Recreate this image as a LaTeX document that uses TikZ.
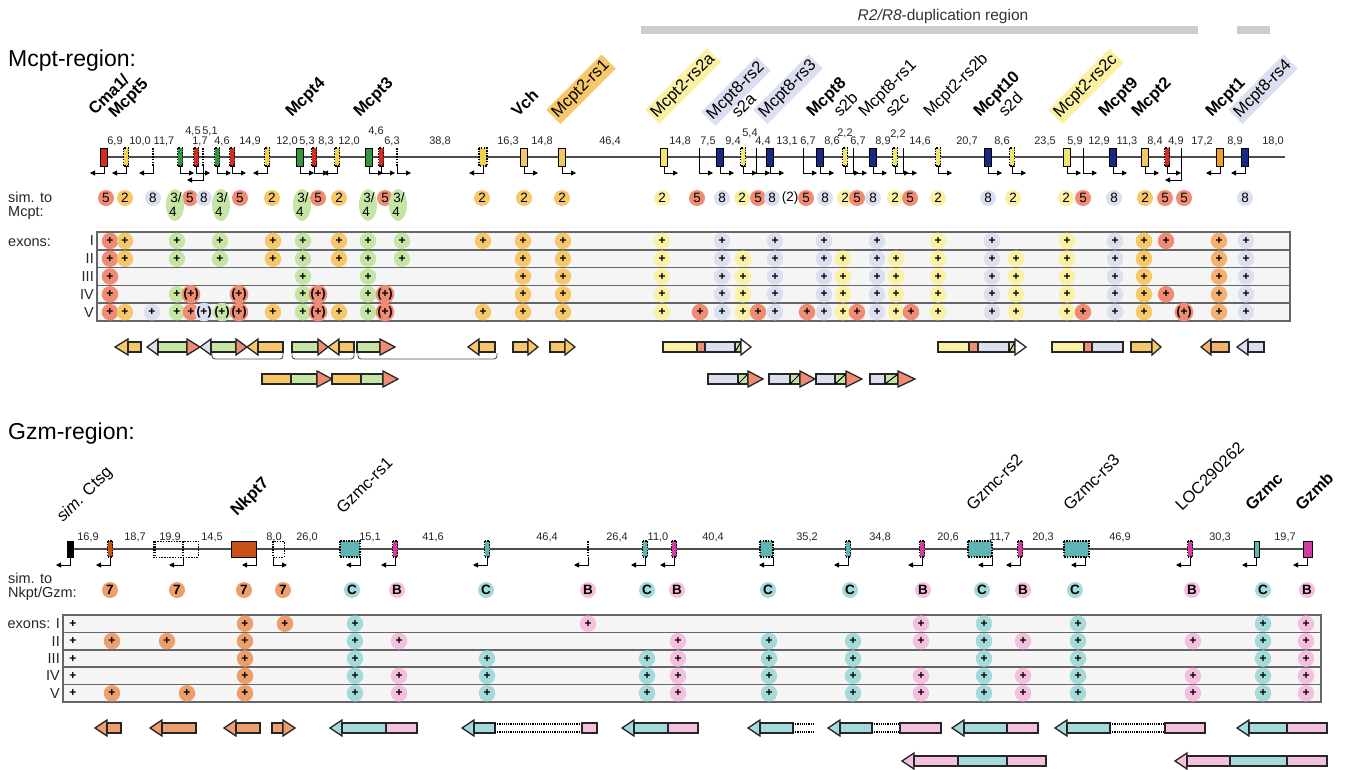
\documentclass[tikz,border=0pt]{standalone}
\usepackage{fontspec}
\setmainfont{Liberation Sans}
\usetikzlibrary{arrows.meta}
\definecolor{cR}{RGB}{240,140,115}
\definecolor{cO}{RGB}{247,200,105}
\definecolor{cP}{RGB}{250,241,165}
\definecolor{cL}{RGB}{220,223,240}
\definecolor{cG}{RGB}{197,229,165}
\definecolor{cA}{RGB}{246,176,112}
\definecolor{cN}{RGB}{236,158,108}
\definecolor{cT}{RGB}{165,218,218}
\definecolor{cK}{RGB}{245,192,221}
\definecolor{gRed}{RGB}{210,45,30}
\definecolor{gYel}{RGB}{240,210,80}
\definecolor{gOch}{RGB}{240,200,100}
\definecolor{gGrn}{RGB}{50,150,60}
\definecolor{gNav}{RGB}{25,40,130}
\definecolor{gPY}{RGB}{240,230,110}
\definecolor{gOr}{RGB}{240,160,40}
\definecolor{gBr}{RGB}{200,80,20}
\definecolor{gTl}{RGB}{95,180,180}
\definecolor{gPk}{RGB}{210,60,160}
\newcommand\myfs[1]{\fontsize{#1}{#1}\selectfont}
\newcommand\sg[4]{\draw[seg,fill=#4] (#1,#3-5) rectangle (#2,#3+5);}
\newcommand\hd[4]{\draw[seg,fill=#4] (#1,#3-8) -- (#2,#3) -- (#1,#3+8) -- cycle;}
\newcommand\dg[4]{\draw[seg,fill=#4] (#1,#3-5) rectangle (#2,#3+5); \draw[line width=1pt] (#1,#3+5) -- (#2,#3-5);}
\newcommand\dt[3]{\draw[densely dotted, line width=1.2pt] (#1,#3-4) -- (#2,#3-4) (#1,#3+4) -- (#2,#3+4);}
\tikzset{
 num/.style={font=\myfs{11}, inner sep=0pt, text=black!85},
 glab/.style={rotate=45, anchor=base west, inner sep=0pt, font=\myfs{16.5}},
 hl/.style={fill=#1, inner sep=2.5pt},
 simc/.style={circle, minimum size=16pt, inner sep=0pt, font=\myfs{13.5}},
 pc/.style={circle, minimum size=16.5pt, inner sep=0pt, font=\bfseries\myfs{12}},
 seg/.style={draw=black!85, line width=1.3pt},
 orient/.style={line width=0.9pt, -{Triangle[length=5pt,width=5pt]}},
 side/.style={font=\myfs{14.5}, inner sep=0pt, text=black!85},
 gline/.style={line width=1.4pt, draw=black!70},
 dotb/.style={line width=1.2pt, dash pattern=on 1.5pt off 1.2pt},
 row/.style={fill=black!4, draw=black!60, line width=1.6pt},
}
\begin{document}
\begin{tikzpicture}[x=1pt,y=-1pt]
\useasboundingbox (0,0) rectangle (1349,769);
% ===== duplication region bars
\fill[black!20] (641,26) rectangle (1198,34);
\fill[black!20] (1237,26) rectangle (1270,34);
\node[font=\myfs{15.5}, text=black!80, anchor=base] at (943,20) {\itshape R2/R8\upshape-duplication region};
% ===== titles
\node[anchor=base west, font=\myfs{23}, inner sep=0pt] at (8,66) {Mcpt-region:};
\node[anchor=base west, font=\myfs{23}, inner sep=0pt] at (8,439) {Gzm-region:};
% ===== Mcpt gene line
\draw[gline] (100,157) -- (1285,157);
\foreach \x/\cc in {104/gRed,300/gGrn,369/gGrn,524/gOch,562/gOch,664/gPY,720/gNav,770/gNav,820/gNav,873/gNav,988/gNav,1067/gPY,1113/gNav,1145/gOch,1220/gOr,1245/gNav}
  {\draw[line width=1pt, fill=\cc] (\x-3.5,148) rectangle (\x+3.5,166);}
\foreach \x/\cc in {126/gYel,180/gGrn,196/gRed,217/gGrn,232/gRed,267/gYel,314/gRed,337/gYel,381/gRed,743/gPY,845/gPY,895/gPY,938/gPY,1012/gPY,1167/gRed}
  {\fill[\cc] (\x-2.5,148) rectangle (\x+2.5,166); \draw[dotb] (\x-2.5,148) rectangle (\x+2.5,166);}
\fill[gYel] (479,148) rectangle (487,166); \draw[dotb] (479,148) rectangle (487,166);
\foreach \x in {153,203,397} {\draw[dotb] (\x,148) -- (\x,166);}
\foreach \x in {699,756,803,853,903,1083,1181} {\draw[line width=1pt] (\x,148) -- (\x,166);}
\foreach \x in {104,126,153,267,337,483,1220,1245} {\draw[orient] (\x,166) -- (\x,173) -- (\x-14,173);}
\foreach \x in {203,1181} {\draw[orient] (\x,166) -- (\x,180) -- (\x-16,180);}
\foreach \x in {180,196,217,232,300,314,369,381,397,524,562,664,699,720,743,756,770,803,820,845,853,873,895,903,938,988,1012,1067,1083,1113,1145,1167}
  {\draw[orient] (\x,166) -- (\x,173) -- (\x+14,173);}
% distances
\foreach \x/\y/\t in {115/141/{6,9},140/141/{10,0},164/141/{11,7},193/131/{4,5},200/141/{1,7},210/131/{5,1},222/141/{4,6},250/141/{14,9},287/141/{12,0},307/141/{5,3},326/141/{8,3},349/141/{12,0},376/131/{4,6},392/141/{6,3},440/141/{38,8},508/141/{16,3},542/141/{14,8},610/141/{46,4},680/141/{14,8},708/141/{7,5},733/141/{9,4},750/133/{5,4},763/141/{4,4},787/141/{13,1},808/141/{6,7},832/141/{8,6},845/133/{2,2},858/141/{6,7},883/141/{8,9},898/134/{2,2},920/141/{14,6},967/141/{20,7},1002/141/{8,6},1045/141/{23,5},1075/141/{5,9},1099/141/{12,9},1127/141/{11,3},1155/141/{8,4},1176/141/{4,9},1202/141/{17,2},1235/141/{8,9},1273/141/{18,0}}
  {\node[num] at (\x,\y) {\t};}
% gene labels
\node[glab] at (95,116) {\bfseries Cma1/};
\node[glab] at (115,119) {\bfseries Mcpt5};
\node[glab] at (292,118) {\bfseries Mcpt4};
\node[glab] at (360,118) {\bfseries Mcpt3};
\node[glab] at (518,118) {\bfseries Vch};
\node[glab,hl=cO] at (556,120) {Mcpt2-rs1};
\node[glab,hl=cP] at (655,120) {Mcpt2-rs2a};
\node[glab,hl=cL] at (711,122) {Mcpt8-rs2};
\node[glab] at (738,119) {s2a};
\node[glab,hl=cL] at (763,120) {Mcpt8-rs3};
\node[glab] at (813,118) {\bfseries Mcpt8};
\node[glab] at (840,118) {s2b};
\node[glab] at (865,118) {Mcpt8-rs1};
\node[glab] at (892,118) {s2c};
\node[glab] at (930,118) {Mcpt2-rs2b};
\node[glab] at (980,118) {\bfseries Mcpt10};
\node[glab] at (1005,118) {s2d};
\node[glab,hl=cP] at (1058,120) {Mcpt2-rs2c};
\node[glab] at (1105,118) {\bfseries Mcpt9};
\node[glab] at (1138,118) {\bfseries Mcpt2};
\node[glab] at (1212,118) {\bfseries Mcpt1};
\node[glab,hl=cL] at (1238,120) {Mcpt8-rs4};
% sim row
\node[side, anchor=base west] at (8,202) {sim. to};
\node[side, anchor=base west] at (8,216) {Mcpt:};
\foreach \x/\cc/\t in {106/cR/5,125/cO/2,153/cL/8,190/cR/5,204/cL/8,240/cR/5,272/cO/2,318/cR/5,339/cO/2,385/cR/5,482/cO/2,524/cO/2,562/cO/2,662/cP/2,697/cR/5,722/cL/8,742/cP/2,758/cR/5,772/cL/8,806/cR/5,825/cL/8,845/cP/2,857/cR/5,873/cL/8,895/cP/2,910/cR/5,938/cP/2,988/cL/8,1013/cP/2,1066/cP/2,1083/cR/5,1114/cL/8,1145/cO/2,1165/cR/5,1184/cR/5,1245/cL/8}
  {\node[simc,fill=\cc] at (\x,198) {\t};}
\node[font=\myfs{13.5}, inner sep=0pt] at (790,198) {(2)};
\foreach \x in {175,221,302,368,398}
  {\fill[cG] (\x,205) ellipse [x radius=9pt, y radius=16pt];
   \node[font=\myfs{13.5}, inner sep=0pt] at (\x+1,198) {3/};
   \node[font=\myfs{13.5}, inner sep=0pt] at (\x-2,212) {4};}
% exon table Mcpt
\node[side, anchor=base west] at (8,246) {exons:};
\foreach \rr in {0,...,4} {\draw[row] (97,{232+17.8*\rr}) rectangle (1290,{232+17.8*(\rr+1)});}
\foreach \t [count=\rr] in {I,II,III,IV,V} {\node[side, anchor=east] at (94,{223.1+17.8*\rr}) {\t};}
\foreach \x/\cc/\rs in {110/cR/{1,2,3,4,5},125/cO/{1,2,5},177/cG/{1,2,4,5},191/cR/{5},220/cG/{1,2},273/cO/{1,2,5},303/cG/{1,2,3,4,5},339/cO/{1,2,5},368/cG/{1,2,3,4,5},402/cG/{1,2},483/cO/{1,5},523/cO/{1,2,3,4,5},563/cO/{1,2,3,4,5},662/cP/{1,2,3,4,5},700/cR/{5},722/cL/{1,2,3,4,5},743/cP/{2,3,4,5},758/cR/{5},775/cL/{1,2,3,4,5},807/cR/{5},824/cL/{1,2,3,4,5},843/cP/{2,3,4,5},857/cR/{5},877/cL/{1,2,3,4,5},896/cP/{2,3,4,5},911/cR/{5},938/cP/{1,2,3,4,5},992/cL/{1,2,3,4,5},1016/cP/{2,3,4,5},1067/cP/{1,2,3,4,5},1083/cR/{5},1115/cL/{1,2,3,4,5},1144/cO/{1,2,3,4,5},1166/cR/{1,4},1219/cA/{1,2,3,4,5},1246/cL/{1,2,3,4,5}}
  {\foreach \rr in \rs {\node[pc,fill=\cc] at (\x,{223.1+17.8*\rr}) {+};}}
\foreach \x/\cc/\rs in {191/cR/{4},204/cL/{5},222/cG/{5},239/cR/{4,5},318/cR/{4,5},385/cR/{4,5},1184/cR/{5}}
  {\foreach \rr in \rs {\node[pc,fill=\cc] at (\x,{223.1+17.8*\rr}) {(+)};}}
\node[pc,fill=cL] at (152,312.1) {+};
% domain arrows Mcpt row 1
\hd{128}{115}{347}{cO} \sg{128}{141}{347}{cO}
\hd{158}{147}{347}{cL} \sg{158}{187}{347}{cG} \hd{187}{200}{347}{cR}
\hd{211}{200}{347}{cL} \sg{211}{236}{347}{cG} \hd{236}{247}{347}{cR}
\hd{258}{247}{347}{cO} \sg{258}{283}{347}{cO}
\sg{292}{318}{347}{cG} \hd{318}{328}{347}{cR}
\hd{339}{328}{347}{cO} \sg{339}{354}{347}{cO}
\sg{357}{380}{347}{cG} \hd{380}{395}{347}{cR}
\hd{479}{468}{347}{cO} \sg{479}{495}{347}{cO}
\sg{513}{528}{347}{cO} \hd{528}{538}{347}{cO}
\sg{550}{565}{347}{cO} \hd{565}{575}{347}{cO}
\sg{663}{697}{347}{cP} \sg{697}{705}{347}{cR} \sg{705}{735}{347}{cL} \dg{735}{741}{347}{cG} \hd{741}{751}{347}{white}
\sg{938}{969}{347}{cP} \sg{969}{978}{347}{cR} \sg{978}{1009}{347}{cL} \dg{1009}{1015}{347}{cG} \hd{1015}{1026}{347}{white}
\sg{1052}{1084}{347}{cP} \sg{1084}{1092}{347}{cR} \sg{1092}{1123}{347}{cL}
\sg{1131}{1152}{347}{cO} \hd{1152}{1161}{347}{cO}
\hd{1211}{1201}{347}{cA} \sg{1211}{1229}{347}{cA}
\hd{1248}{1237}{347}{cL} \sg{1248}{1264}{347}{cL}
% brackets
\foreach \a/\b in {212/283,292/354,358/497}
  {\draw[line width=0.9pt, black!70, rounded corners=3pt] (\a,353) -- (\a,359) -- (\b,359) -- (\b,353);}
% row 2
\sg{262}{291}{379}{cO} \sg{291}{317}{379}{cG} \hd{317}{332}{379}{cR}
\sg{332}{361}{379}{cO} \sg{361}{383}{379}{cG} \hd{383}{398}{379}{cR}
\sg{708}{738}{379}{cL} \dg{738}{748}{379}{cG} \hd{748}{763}{379}{cR}
\sg{769}{790}{379}{cL} \dg{790}{800}{379}{cG} \hd{800}{815}{379}{cR}
\sg{816}{835}{379}{cL} \dg{835}{846}{379}{cG} \hd{846}{862}{379}{cR}
\sg{870}{885}{379}{cL} \dg{885}{898}{379}{cG} \hd{898}{915}{379}{cR}
% ===== Gzm gene line
\draw[gline] (70,549) -- (1312,549);
\draw[line width=1pt, fill=black] (67,541) rectangle (73,557);
\draw[line width=1pt, fill=gBr] (231,541) rectangle (256,557);
\draw[line width=1pt, fill=gTl] (1254,541) rectangle (1259,557);
\draw[line width=1pt, fill=gPk] (1303,541) rectangle (1312,557);
\foreach \x/\cc in {110/gBr,395/gPk,487/gTl,645/gTl,674/gPk,848/gTl,922/gPk,1020/gPk,1190/gPk}
  {\fill[\cc] (\x-2.5,541) rectangle (\x+2.5,557); \draw[dotb] (\x-2.5,541) rectangle (\x+2.5,557);}
\foreach \x in {155,183,273,588} {\draw[dotb] (\x,541) -- (\x,557);}
\draw[dotb, line width=1pt] (153,541) rectangle (198,557);
\draw[dotb, line width=1pt] (273,541) rectangle (284,557);
\foreach \a/\b in {340/360,760/773,968/992,1064/1089}
  {\fill[gTl] (\a,541) rectangle (\b,557); \draw[dotb] (\a,541) rectangle (\b,557);}
\foreach \x in {70,110,183,256,360,395,487,588,645,674,773,848,922,992,1020,1085,1190,1256,1307}
  {\draw[orient] (\x,557) -- (\x,565) -- (\x-14,565);}
\draw[orient] (273,557) -- (273,565) -- (287,565);
\foreach \x/\t in {88/{16,9},135/{18,7},170/{19,9},212/{14,5},274/{8,0},307/{26,0},370/{15,1},433/{41,6},547/{46,4},617/{26,4},658/{11,0},713/{40,4},807/{35,2},880/{34,8},948/{20,6},1000/{11,7},1043/{20,3},1120/{46,9},1220/{30,3},1285/{19,7}}
  {\node[num] at (\x,537) {\t};}
\node[glab] at (63,523) {\itshape sim.\upshape{} Ctsg};
\node[glab] at (237,517) {\bfseries Nkpt7};
\node[glab] at (343,515) {Gzmc-rs1};
\node[glab] at (973,512) {Gzmc-rs2};
\node[glab] at (1070,512) {Gzmc-rs3};
\node[glab] at (1182,512) {LOC290262};
\node[glab] at (1252,512) {\bfseries Gzmc};
\node[glab] at (1302,512) {\bfseries Gzmb};
\node[side, anchor=base west] at (8,583) {sim. to};
\node[side, anchor=base west] at (8,597) {Nkpt/Gzm:};
\foreach \x/\cc/\t in {110/cN/7,177/cN/7,244/cN/7,283/cN/7,352/cT/C,397/cK/B,486/cT/C,588/cK/B,647/cT/C,677/cK/B,768/cT/C,850/cT/C,923/cK/B,982/cT/C,1023/cK/B,1075/cT/C,1192/cK/B,1263/cT/C,1307/cK/B}
  {\node[simc,fill=\cc,font=\bfseries\myfs{13.5}] at (\x,590) {\t};}
% exon table Gzm
\foreach \rr in {0,...,4} {\draw[row] (63,{615+17.4*\rr}) rectangle (1321,{615+17.4*(\rr+1)});}
\node[side, anchor=east] at (60,623.7) {exons: I};
\foreach \t [count=\rr] in {I,II,III,IV,V} {\ifnum\rr>1 \node[side, anchor=east] at (60,{606.3+17.4*\rr}) {\t};\fi}
\foreach \rr in {1,...,5} {\node[font=\bfseries\myfs{12}, inner sep=0pt] at (73,{606.3+17.4*\rr}) {+};}
\foreach \x/\cc/\rs in {112/cN/{2,5},167/cN/{2},187/cN/{5},245/cN/{1,2,3,4,5},285/cN/{1},355/cT/{1,2,3,4,5},399/cK/{2,4,5},487/cT/{3,4,5},588/cK/{1},647/cT/{3,4,5},678/cK/{2,3,4,5},769/cT/{2,3,4,5},853/cT/{2,3,4,5},921/cK/{1,2,4,5},984/cT/{1,2,3,4,5},1023/cK/{2,4,5},1078/cT/{1,2,3,4,5},1193/cK/{2,4,5},1263/cT/{1,2,3,4,5},1306/cK/{1,2,3,4,5}}
  {\foreach \rr in \rs {\node[pc,fill=\cc] at (\x,{606.3+17.4*\rr}) {+};}}
% domain arrows Gzm
\hd{107}{95}{728}{cN} \sg{107}{121}{728}{cN}
\hd{162}{150}{728}{cN} \sg{162}{196}{728}{cN}
\hd{236}{224}{728}{cN} \sg{236}{260}{728}{cN}
\sg{272}{283}{728}{cN} \hd{283}{295}{728}{cN}
\hd{342}{330}{728}{cT} \sg{342}{386}{728}{cT} \sg{386}{417}{728}{cK}
\hd{474}{462}{728}{cT} \sg{474}{495}{728}{cT} \dt{495}{582}{728} \sg{582}{597}{728}{cK}
\hd{634}{622}{728}{cT} \sg{634}{668}{728}{cT} \sg{668}{698}{728}{cK}
\hd{760}{748}{728}{cT} \sg{760}{793}{728}{cT} \dt{793}{815}{728}
\hd{840}{828}{728}{cT} \sg{840}{872}{728}{cT} \dt{872}{900}{728} \sg{900}{941}{728}{cK}
\hd{964}{952}{728}{cT} \sg{964}{1007}{728}{cT} \sg{1007}{1038}{728}{cK}
\hd{1067}{1055}{728}{cT} \sg{1067}{1110}{728}{cT} \dt{1110}{1165}{728} \sg{1165}{1205}{728}{cK}
\hd{1249}{1237}{728}{cT} \sg{1249}{1287}{728}{cT} \sg{1287}{1327}{728}{cK}
\hd{914}{902}{761}{cK} \sg{914}{958}{761}{cK} \sg{958}{1007}{761}{cT} \sg{1007}{1046}{761}{cK}
\hd{1187}{1175}{761}{cK} \sg{1187}{1230}{761}{cK} \sg{1230}{1287}{761}{cT} \sg{1287}{1327}{761}{cK}
\end{tikzpicture}
\end{document}
